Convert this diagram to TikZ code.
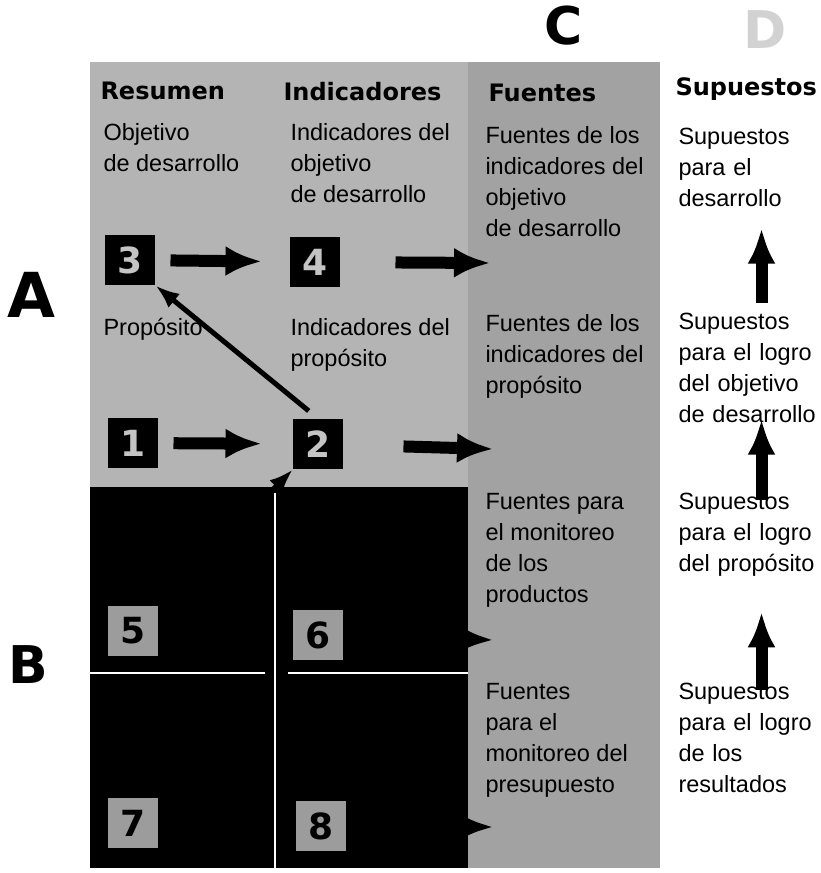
\documentclass[tikz,border=0pt]{standalone}
\usepackage{fontspec}
\setmainfont{Liberation Sans}
\newfontfamily\headfont{DejaVu Sans}
\usetikzlibrary{arrows.meta}
\definecolor{cshade}{HTML}{B4B4B4}
\definecolor{csrc}{HTML}{A2A2A2}
\definecolor{cnum}{HTML}{C4C4C4}
\definecolor{cnumbox}{HTML}{9C9C9C}
\definecolor{cfaint}{HTML}{D2D2D2}
\tikzset{
  every picture/.style={line width=1pt},
  txt/.style={anchor=north west, inner sep=0pt, align=left, font=\fontsize{23.5}{31}\selectfont},
  sup/.style={txt, text width=166pt},
  head/.style={anchor=north west, inner sep=0pt, font=\headfont\bfseries\fontsize{24}{24}\selectfont},
  letter/.style={inner sep=0pt, font=\headfont\bfseries\fontsize{#1}{#1}\selectfont},
  letter/.default=52,
  numbox/.style={fill=black, text=cnum, minimum size=50pt, inner sep=0pt, font=\headfont\bfseries\fontsize{36}{36}\selectfont},
  numboxg/.style={numbox, fill=cnumbox, text=black},
  harrow/.style={-{Latex[length=36pt, width=30pt]}, line width=12pt, draw=black},
  varrow/.style={-{Latex[length=36pt, width=28pt]}, line width=12pt, draw=black},
  darrow/.style={-{Latex[length=24pt, width=18pt]}, line width=5pt, draw=black},
}

\begin{document}
\begin{tikzpicture}[x=1pt, y=-1pt]
  \useasboundingbox (0,0) rectangle (821,873);
  % shaded columns and the dark lower block
  \fill[cshade] (90,62) rectangle (468,868);
  \fill[csrc] (468,62) rectangle (660,868);
  \fill[black] (90,487) rectangle (468,868);
  \draw[white, line width=1.5pt] (275,493) -- (275,868);
  \draw[white, line width=1.5pt] (90,673) -- (265,673) (288,673) -- (468,673);
  % big letters
  \node[letter=62] (la) at (31,295) {A};
  \node[letter] (lb) at (28,665) {B};
  \node[letter] (lc) at (564,26) {C};
  \node[letter, text=cfaint] (ld) at (765,30) {D};
  % column heads
  \node[head] (hres) at (100,82) {Resumen};
  \node[head] (hind) at (283,82) {Indicadores};
  \node[head] (hfue) at (488,84) {Fuentes};
  \node[head] (hsup) at (675,77) {Supuestos};
  % cell texts
  \node[txt] (r1) at (103,123) {Objetivo\\de desarrollo};
  \node[txt] (i1) at (290,123) {Indicadores del\\objetivo\\de desarrollo};
  \node[txt] (f1) at (485,126) {Fuentes de los\\indicadores del\\objetivo\\de desarrollo};
  \node[sup] (s1) at (678,128) {Supuestos\\para el\\desarrollo};
  \node[txt] (r2) at (103,318) {Propósito};
  \node[txt] (i2) at (290,318) {Indicadores del\\propósito};
  \node[txt] (f2) at (485,314) {Fuentes de los\\indicadores del\\propósito};
  \node[sup] (s2) at (678,313) {Supuestos\\para el logro\\del objetivo\\de desarrollo};
  \node[txt] (f3) at (485,493) {Fuentes para\\el monitoreo\\de los\\productos};
  \node[sup] (s3) at (678,493) {Supuestos\\para el logro\\del propósito};
  \node[txt] (f4) at (485,683) {Fuentes\\para el\\monitoreo del\\presupuesto};
  \node[sup] (s4) at (678,683) {Supuestos\\para el logro\\de los\\resultados};
  % numbered boxes
  \foreach \n/\x/\y in {3/130/260, 4/315/262, 1/133/443, 2/318/444}
    \node[numbox] (n\n) at (\x,\y) {\n};
  \foreach \n/\x/\y in {5/133/631, 6/318/635, 7/133/823, 8/321/826}
    \node[numboxg] (n\n) at (\x,\y) {\n};
  % arrows
  \coordinate (e4) at (490,263);
  \coordinate (e2) at (493,449);
  \coordinate (e6) at (493,640);
  \coordinate (e8) at (493,827);
  \draw[harrow, shorten <=15pt, shorten >=28pt] (n3) -- (n4);
  \draw[harrow, shorten <=15pt, shorten >=31pt] (n1) -- (n2);
  \draw[harrow, shorten <=55pt] (n4) -- (e4);
  \draw[harrow, shorten <=60pt] (n2) -- (e2);
  \draw[harrow] (n6) -- (e6);
  \draw[harrow] (n8) -- (e8);
  \draw[darrow, shorten <=12pt] (n2.north) -- (n3.south east);
  \draw[darrow] (n5) -- (n2);
  \draw[varrow, shorten <=10pt, shorten >=20pt] (s2.north) -- (s1.south);
  \draw[varrow, shorten <=-7pt, shorten >=-5pt] (s3.north) -- (s2.south);
  \draw[varrow, shorten <=-7pt, shorten >=34pt] (s4.north) -- (s3.south);
\end{tikzpicture}
\end{document}
